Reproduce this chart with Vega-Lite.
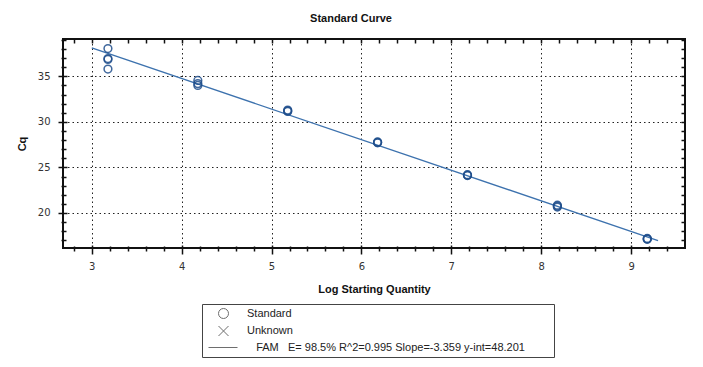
{
  "$schema": "https://vega.github.io/schema/vega-lite/v6.json",
  "width": 622,
  "height": 209,
  "autosize": {"type": "none"},
  "padding": {"left": 63, "top": 39, "right": 18, "bottom": 119},
  "background": "white",
  "title": {"text": "Standard Curve", "anchor": "middle", "dx": -23, "offset": 14, "font": "Liberation Sans", "fontSize": 11, "fontWeight": "bold", "color": "#111"},
  "datasets": {
    "pts": [
      {"logq": 3.18, "cq": 38.05, "series": "Standard"},
      {"logq": 3.18, "cq": 36.85, "series": "Standard"},
      {"logq": 3.18, "cq": 36.95, "series": "Standard"},
      {"logq": 3.18, "cq": 35.8, "series": "Standard"},
      {"logq": 4.18, "cq": 34.55, "series": "Standard"},
      {"logq": 4.18, "cq": 34.2, "series": "Standard"},
      {"logq": 4.18, "cq": 34.0, "series": "Standard"},
      {"logq": 5.18, "cq": 31.3, "series": "Standard"},
      {"logq": 5.18, "cq": 31.2, "series": "Standard"},
      {"logq": 5.18, "cq": 31.15, "series": "Standard"},
      {"logq": 6.18, "cq": 27.8, "series": "Standard"},
      {"logq": 6.18, "cq": 27.7, "series": "Standard"},
      {"logq": 6.18, "cq": 27.75, "series": "Standard"},
      {"logq": 7.18, "cq": 24.15, "series": "Standard"},
      {"logq": 7.18, "cq": 24.1, "series": "Standard"},
      {"logq": 7.18, "cq": 24.2, "series": "Standard"},
      {"logq": 8.18, "cq": 20.85, "series": "Standard"},
      {"logq": 8.18, "cq": 20.75, "series": "Standard"},
      {"logq": 8.18, "cq": 20.65, "series": "Standard"},
      {"logq": 9.18, "cq": 17.1, "series": "Standard"},
      {"logq": 9.18, "cq": 17.15, "series": "Standard"},
      {"logq": 9.18, "cq": 17.2, "series": "Standard"}
    ],
    "fit": [
      {"logq": 3.0, "cq": 38.124},
      {"logq": 9.3, "cq": 16.962}
    ]
  },
  "layer": [
    {
      "data": {"name": "fit"},
      "mark": {"type": "line", "color": "#3d72ae", "strokeWidth": 1.3},
      "encoding": {
        "x": {"field": "logq", "type": "quantitative", "scale": {"domain": [2.68, 9.6], "nice": false, "zero": false},
              "axis": {"orient": "bottom", "values": [3, 4, 5, 6, 7, 8, 9], "offset": -3, "tickSize": 9, "labelPadding": 7, "grid": true, "title": "Log Starting Quantity", "titlePadding": 12}},
        "y": {"field": "cq", "type": "quantitative", "scale": {"domain": [16.15, 39.1], "nice": false, "zero": false},
              "axis": {"orient": "left", "values": [20, 25, 30, 35], "offset": -4, "tickSize": 9, "labelPadding": 8, "grid": true, "title": "Cq", "titlePadding": 10}}
      }
    },
    {
      "data": {"name": "pts"},
      "mark": {"type": "point", "filled": false, "color": "#1f4e8c", "size": 60, "strokeWidth": 1.5, "opacity": 0.85},
      "encoding": {
        "x": {"field": "logq", "type": "quantitative", "scale": {"domain": [2.68, 9.6], "nice": false, "zero": false},
              "axis": {"orient": "bottom", "values": [2.8, 3.2, 3.4, 3.6, 3.8, 4.2, 4.4, 4.6, 4.8, 5.2, 5.4, 5.6, 5.8, 6.2, 6.4, 6.6, 6.8, 7.2, 7.4, 7.6, 7.8, 8.2, 8.4, 8.6, 8.8, 9.2, 9.4], "offset": -2, "tickSize": 5, "labels": false, "grid": false, "title": null}},
        "y": {"field": "cq", "type": "quantitative", "scale": {"domain": [16.15, 39.1], "nice": false, "zero": false},
              "axis": {"orient": "left", "values": [17, 18, 19, 21, 22, 23, 24, 26, 27, 28, 29, 31, 32, 33, 34, 36, 37, 38, 39], "offset": -3, "tickSize": 5, "labels": false, "grid": false, "title": null}},
        "shape": {
          "field": "series", "type": "nominal",
          "scale": {"domain": ["Standard", "Unknown", "FAM"], "range": ["circle", "M-1,-1L1,1M1,-1L-1,1", "M-3,0L2.8,0"]},
          "legend": {
            "orient": "none", "legendX": 139, "legendY": 265, "title": null,
            "strokeColor": "#444", "fillColor": "white", "padding": 4,
            "symbolSize": 100, "symbolOffset": 12, "labelOffset": 18, "rowPadding": 2.5,
            "labelFont": "Liberation Sans", "labelFontSize": 11, "labelColor": "#222", "labelLimit": 500,
            "symbolStrokeWidth": 1, "symbolStrokeColor": "#555555", "symbolFillColor": "transparent",
            "labelExpr": "datum.value === 'FAM' ? '\u200b\u2007 FAM\u2007 E= 98.5% R^2=0.995 Slope=-3.359 y-int=48.201\u2007\u2007\u2007\u2007\u200b' : datum.label"
          }
        }
      }
    },
    {
      "data": {"values": []},
      "mark": {"type": "point"},
      "encoding": {
        "x": {"field": "logq", "type": "quantitative", "scale": {"domain": [2.68, 9.6], "nice": false, "zero": false},
              "axis": {"orient": "top", "values": [2.8, 3.0, 3.2, 3.4, 3.6, 3.8, 4.0, 4.2, 4.4, 4.6, 4.8, 5.0, 5.2, 5.4, 5.6, 5.8, 6.0, 6.2, 6.4, 6.6, 6.8, 7.0, 7.2, 7.4, 7.6, 7.8, 8.0, 8.2, 8.4, 8.6, 8.8, 9.0, 9.2, 9.4], "offset": -4, "tickSize": 4, "labels": false, "grid": false, "title": null}},
        "y": {"field": "cq", "type": "quantitative", "scale": {"domain": [16.15, 39.1], "nice": false, "zero": false},
              "axis": {"orient": "right", "values": [17, 18, 19, 20, 21, 22, 23, 24, 25, 26, 27, 28, 29, 30, 31, 32, 33, 34, 35, 36, 37, 38, 39], "offset": -4, "tickSize": 4, "labels": false, "grid": false, "title": null}}
      }
    }
  ],
  "resolve": {"axis": {"x": "independent", "y": "independent"}},
  "config": {
    "view": {"stroke": "#111", "strokeWidth": 2},
    "axis": {
      "domain": false,
      "tickColor": "#111", "tickWidth": 1.5,
      "labelFont": "DejaVu Sans", "labelFontSize": 10, "labelColor": "#333",
      "gridColor": "#222", "gridDash": [1.5, 3], "gridWidth": 1, "gridOpacity": 1,
      "titleFont": "Liberation Sans", "titleFontSize": 11, "titleFontWeight": "bold", "titleColor": "#111"
    }
  }
}
